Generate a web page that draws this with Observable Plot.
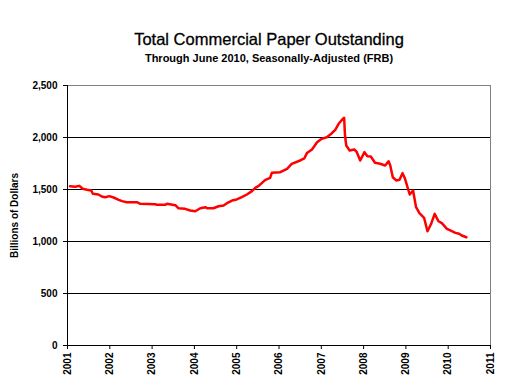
<!DOCTYPE html>
<html>
<head>
<meta charset="utf-8">
<script src="https://cdn.jsdelivr.net/npm/d3@7"></script>
<script src="https://cdn.jsdelivr.net/npm/@observablehq/plot@0.6"></script>
<style>
  html, body { margin: 0; padding: 0; background: #fff; }
  #wrap { position: relative; width: 507px; height: 382px; overflow: hidden; font-family: "Liberation Sans", Arial, sans-serif; }
  .ttl { position: absolute; left: 269px; transform: translateX(-50%); white-space: nowrap; line-height: 1; color: #000; }
  #title { top: 31px; font-size: 16.5px; -webkit-text-stroke: 0.3px #000; }
  #subtitle { top: 52.5px; font-size: 11px; font-weight: bold; }
  #chart { position: absolute; left: 0; top: 0; }
</style>
</head>
<body>
<div id="wrap">
  <div id="chart"></div>
  <div id="title" class="ttl">Total Commercial Paper Outstanding</div>
  <div id="subtitle" class="ttl">Through June 2010, Seasonally-Adjusted (FRB)</div>
</div>
<script>
// Time (decimal year)
const years = [
  2001.06, 2001.18, 2001.28, 2001.36, 2001.46, 2001.56, 2001.60, 2001.73, 2001.81, 2001.89, 2001.99,
  2002.09, 2002.21, 2002.29, 2002.40, 2002.64, 2002.72,
  2003.07, 2003.11, 2003.31, 2003.35, 2003.55, 2003.62, 2003.78, 2003.90,
  2004.02, 2004.14, 2004.26, 2004.30, 2004.45, 2004.57, 2004.69, 2004.77, 2004.89,
  2005.00, 2005.12, 2005.24, 2005.36, 2005.44, 2005.52, 2005.67, 2005.79, 2005.83,
  2006.03, 2006.19, 2006.30, 2006.50, 2006.60, 2006.66, 2006.78, 2006.90,
  2007.01, 2007.13, 2007.25, 2007.33, 2007.41, 2007.51, 2007.54, 2007.56, 2007.59, 2007.67, 2007.78, 2007.84, 2007.92,
  2008.02, 2008.09, 2008.17, 2008.27, 2008.39, 2008.51, 2008.59, 2008.63, 2008.69, 2008.77, 2008.85, 2008.92, 2008.98,
  2009.09, 2009.17, 2009.24, 2009.32, 2009.43, 2009.51, 2009.59, 2009.68, 2009.77, 2009.85, 2009.97,
  2010.05, 2010.17, 2010.26, 2010.32, 2010.43
];
// Total commercial paper outstanding, billions of dollars
const outstanding = [
  1532, 1526, 1535, 1507, 1497, 1490, 1459, 1452, 1433, 1426, 1436,
  1423, 1401, 1388, 1378, 1378, 1362,
  1359, 1353, 1353, 1362, 1349, 1320, 1314, 1298,
  1291, 1320, 1330, 1320, 1320, 1339, 1346, 1368, 1394,
  1404, 1426, 1452, 1484, 1516, 1535, 1590, 1612, 1660,
  1666, 1699, 1747, 1779, 1800, 1850, 1885, 1955,
  1987, 2003, 2041, 2074, 2132, 2180, 2189, 2019, 1923, 1875, 1885, 1859, 1779,
  1859, 1820, 1817, 1757, 1747, 1731, 1772, 1731, 1618, 1587, 1593, 1657, 1603,
  1452, 1490, 1330, 1272, 1228, 1099, 1163, 1266, 1195, 1176, 1122,
  1106, 1083, 1074, 1058, 1041
];
const xTicks = [2001, 2002, 2003, 2004, 2005, 2006, 2007, 2008, 2009, 2010, 2011];
const yTicks = [0, 500, 1000, 1500, 2000, 2500];
const gridValues = [500, 1000, 1500, 2000];

const data = years.map((t, i) => ({t, v: outstanding[i]}));

const chart = Plot.plot({
  width: 507,
  height: 382,
  marginLeft: 67,
  marginRight: 17,
  marginTop: 85,
  marginBottom: 37,
  style: {fontFamily: "'Liberation Sans', Arial, sans-serif", color: "#000", background: "#fff", overflow: "visible"},
  x: {domain: [2001, 2011], type: "linear"},
  y: {domain: [0, 2500]},
  marks: [
    Plot.ruleY(gridValues, {stroke: "#000", strokeWidth: 1}),
    Plot.ruleY([2500], {stroke: "#808080", strokeWidth: 1}),
    Plot.ruleX([2011], {stroke: "#808080", strokeWidth: 1}),
    Plot.ruleX([2001], {stroke: "#000", strokeWidth: 1}),
    Plot.ruleY([0], {stroke: "#000", strokeWidth: 1}),
    Plot.axisY({
      ticks: yTicks, tickFormat: d3.format(","), tickSize: 4, tickPadding: 6,
      fontWeight: "bold", fontSize: 10, stroke: "#000",
      label: "Billions of Dollars", labelAnchor: "center", labelOffset: 57, labelArrow: false
    }),
    Plot.axisX({
      ticks: xTicks, tickFormat: d => String(d), tickRotate: -90, tickSize: 4, tickPadding: 3,
      fontWeight: "bold", fontSize: 10, stroke: "#000", label: null
    }),
    Plot.line(data, {x: "t", y: "v", stroke: "#ff0000", strokeWidth: 2.5, strokeLinejoin: "round"})
  ]
});
document.getElementById("chart").appendChild(chart);
</script>
</body>
</html>
